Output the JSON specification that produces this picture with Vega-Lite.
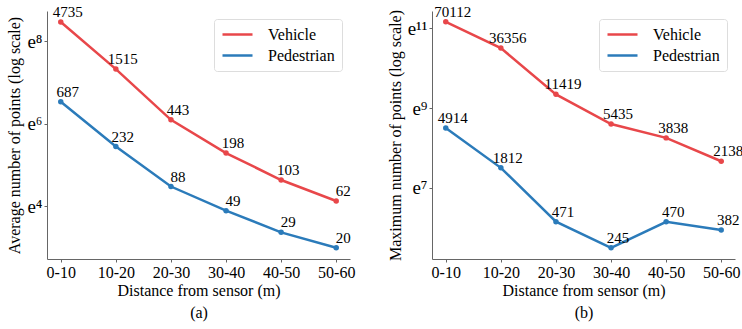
{
  "$schema": "https://vega.github.io/schema/vega-lite/v6.json",
  "padding": {"left": 6, "top": 4, "right": 4, "bottom": 4},
  "background": "white",
  "config": {
    "font": "Times New Roman, Liberation Serif, serif",
    "text": {"font": "Times New Roman, Liberation Serif, serif"},
    "view": {"stroke": null},
    "axis": {"labelFont": "Times New Roman, Liberation Serif, serif", "titleFont": "Times New Roman, Liberation Serif, serif", "labelFontSize": 16, "titleFontSize": 16, "titleFontWeight": "normal", "labelColor": "black", "titleColor": "black", "domainColor": "#666", "tickColor": "#666", "tickSize": 3, "grid": false},
    "legend": {"labelFont": "Times New Roman, Liberation Serif, serif", "labelFontSize": 16, "labelColor": "black"},
    "concat": {"spacing": 82}
  },
  "bounds": "flush",
  "resolve": {"scale": {"color": "independent", "y": "independent"}, "legend": {"color": "independent"}},
  "datasets": {
    "avg": [
      {"d": "0-10", "s": "Vehicle", "v": 4735},
      {"d": "10-20", "s": "Vehicle", "v": 1515},
      {"d": "20-30", "s": "Vehicle", "v": 443},
      {"d": "30-40", "s": "Vehicle", "v": 198},
      {"d": "40-50", "s": "Vehicle", "v": 103},
      {"d": "50-60", "s": "Vehicle", "v": 62},
      {"d": "0-10", "s": "Pedestrian", "v": 687},
      {"d": "10-20", "s": "Pedestrian", "v": 232},
      {"d": "20-30", "s": "Pedestrian", "v": 88},
      {"d": "30-40", "s": "Pedestrian", "v": 49},
      {"d": "40-50", "s": "Pedestrian", "v": 29},
      {"d": "50-60", "s": "Pedestrian", "v": 20}
    ],
    "max": [
      {"d": "0-10", "s": "Vehicle", "v": 70112},
      {"d": "10-20", "s": "Vehicle", "v": 36356},
      {"d": "20-30", "s": "Vehicle", "v": 11419},
      {"d": "30-40", "s": "Vehicle", "v": 5435},
      {"d": "40-50", "s": "Vehicle", "v": 3838},
      {"d": "50-60", "s": "Vehicle", "v": 2138},
      {"d": "0-10", "s": "Pedestrian", "v": 4914},
      {"d": "10-20", "s": "Pedestrian", "v": 1812},
      {"d": "20-30", "s": "Pedestrian", "v": 471},
      {"d": "30-40", "s": "Pedestrian", "v": 245},
      {"d": "40-50", "s": "Pedestrian", "v": 470},
      {"d": "50-60", "s": "Pedestrian", "v": 382}
    ]
  },
  "hconcat": [
    {
      "width": 303,
      "height": 248,
      "data": {"name": "avg"},
      "encoding": {
        "x": {"field": "d", "type": "ordinal", "sort": null, "scale": {"type": "point", "padding": 0.25},
              "axis": {"labelAngle": 0, "title": ["Distance from sensor (m)", "(a)"], "titleLineHeight": 22, "titlePadding": 2, "labelPadding": 2}},
        "y": {"field": "v", "type": "quantitative",
              "scale": {"type": "log", "base": 2.718281828459045, "domain": [15.2, 6190], "nice": false},
              "axis": {"values": [54.598150033, 403.428793493, 2980.957987], "labelExpr": "datum.value < 100 ? 'e⁴' : datum.value < 1000 ? 'e⁶' : 'e⁸'", "labelFontSize": 19, "title": "Average number of points (log scale)", "titlePadding": 4, "labelPadding": 2}},
        "color": {"field": "s", "type": "nominal", "sort": ["Vehicle", "Pedestrian"],
                  "scale": {"domain": ["Vehicle", "Pedestrian"], "range": ["#e8474a", "#2b7bba"]},
                  "legend": {"title": null, "orient": "top-right", "offset": 8, "symbolType": "stroke", "symbolStrokeWidth": 2.5, "symbolSize": 900, "fillColor": "white", "strokeColor": "#ddd", "cornerRadius": 3, "padding": 7, "rowPadding": 4, "labelOffset": 14, "clipHeight": 17}}
      },
      "layer": [
        {"mark": {"type": "line", "strokeWidth": 2.5}},
        {"mark": {"type": "point", "filled": true, "size": 30, "opacity": 1}},
        {"mark": {"type": "text", "dx": 7, "dy": -5, "baseline": "alphabetic", "fontSize": 15, "color": "black"}, "encoding": {"text": {"field": "v", "type": "quantitative", "format": "d"}, "color": {"value": "black"}}}
      ]
    },
    {
      "width": 303,
      "height": 248,
      "data": {"name": "max"},
      "encoding": {
        "x": {"field": "d", "type": "ordinal", "sort": null, "scale": {"type": "point", "padding": 0.25},
              "axis": {"labelAngle": 0, "title": ["Distance from sensor (m)", "(b)"], "titleLineHeight": 22, "titlePadding": 2, "labelPadding": 2}},
        "y": {"field": "v", "type": "quantitative",
              "scale": {"type": "log", "base": 2.718281828459045, "domain": [185, 92000], "nice": false},
              "axis": {"values": [1096.633158, 8103.083928, 59874.14172], "labelExpr": "datum.value < 2000 ? 'e⁷' : datum.value < 20000 ? 'e⁹' : 'e¹¹'", "labelFontSize": 19, "title": "Maximum number of points (log scale)", "titlePadding": 4, "labelPadding": 2}},
        "color": {"field": "s", "type": "nominal", "sort": ["Vehicle", "Pedestrian"],
                  "scale": {"domain": ["Vehicle", "Pedestrian"], "range": ["#e8474a", "#2b7bba"]},
                  "legend": {"title": null, "orient": "top-right", "offset": 8, "symbolType": "stroke", "symbolStrokeWidth": 2.5, "symbolSize": 900, "fillColor": "white", "strokeColor": "#ddd", "cornerRadius": 3, "padding": 7, "rowPadding": 4, "labelOffset": 14, "clipHeight": 17}}
      },
      "layer": [
        {"mark": {"type": "line", "strokeWidth": 2.5}},
        {"mark": {"type": "point", "filled": true, "size": 30, "opacity": 1}},
        {"mark": {"type": "text", "dx": 7, "dy": -5, "baseline": "alphabetic", "fontSize": 15, "color": "black"}, "encoding": {"text": {"field": "v", "type": "quantitative", "format": "d"}, "color": {"value": "black"}}}
      ]
    }
  ]
}
